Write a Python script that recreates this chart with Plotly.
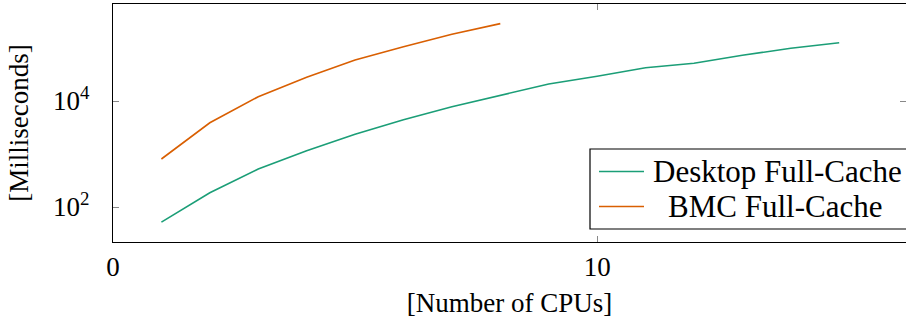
import plotly.graph_objects as go

# Timings (ms) against the number of CPUs used
cpus_desktop = [1, 2, 3, 4, 5, 6, 7, 8, 9, 10, 11, 12, 13, 14, 15]
ms_desktop = [52, 186, 521, 1154, 2355, 4440, 7820, 13000, 20900, 29400,
              42500, 51400, 72800, 98600, 126000]

cpus_bmc = [1, 2, 3, 4, 5, 6, 7, 8]
ms_bmc = [805, 3890, 12060, 28000, 59400, 106000, 181000, 288000]

series_names = ["Desktop Full-Cache", "BMC Full-Cache"]

x_ticks = [0, 10]
y_ticks = [100, 10000]
y_tick_text = ["10<sup>2</sup>", "10<sup>4</sup>"]

FONT = "Liberation Serif"
GREEN = "#1b9e77"
ORANGE = "#d95f02"
colors = [GREEN, ORANGE]

W, H = 906, 326
ML, MR, MT, MB = 113, 0, 4, 84
PW, PH = W - ML - MR, H - MT - MB


def px_x(p):
    return (p - ML) / PW


def px_y(p):
    return (H - MB - p) / PH


fig = go.Figure()
fig.add_trace(go.Scatter(x=cpus_desktop, y=ms_desktop, mode="lines",
                         name=series_names[0],
                         line=dict(color=GREEN, width=1.6)))
fig.add_trace(go.Scatter(x=cpus_bmc, y=ms_bmc, mode="lines",
                         name=series_names[1],
                         line=dict(color=ORANGE, width=1.6)))

# Legend box in the lower-right corner, drawn with shapes and text
shapes = [dict(type="rect", xref="paper", yref="paper",
               x0=px_x(590), x1=px_x(910), y0=px_y(229), y1=px_y(149),
               line=dict(color="black", width=1.2), fillcolor="white",
               layer="above")]
annotations = []
rows_y = [171.5, 206.5]
for name, col, ry, align in zip(series_names, colors, rows_y,
                                ["left", "center"]):
    shapes.append(dict(type="line", xref="paper", yref="paper",
                       x0=px_x(599), x1=px_x(644), y0=px_y(ry), y1=px_y(ry),
                       line=dict(color=col, width=1.6), layer="above"))
    if align == "left":
        annotations.append(dict(xref="paper", yref="paper", x=px_x(651),
                                y=px_y(ry), xanchor="left", yanchor="middle",
                                text=name, showarrow=False,
                                font=dict(family=FONT, size=31, color="black")))
    else:
        annotations.append(dict(xref="paper", yref="paper",
                                x=px_x((651 + 898) / 2), y=px_y(ry),
                                xanchor="center", yanchor="middle",
                                text=name, showarrow=False,
                                font=dict(family=FONT, size=31, color="black")))

fig.update_layout(
    width=W, height=H,
    margin=dict(l=ML, r=MR, t=MT, b=MB),
    paper_bgcolor="white", plot_bgcolor="white",
    font=dict(family=FONT, size=27, color="black"),
    showlegend=False,
    shapes=shapes,
    annotations=annotations,
)

fig.update_xaxes(
    range=[0, 16.38], tickvals=x_ticks, ticks="inside", ticklen=6,
    tickcolor="#888888", tickwidth=1,
    showline=True, linecolor="black", linewidth=1.3, mirror="ticks",
    showgrid=False, zeroline=False,
    title=dict(text="[Number of CPUs]", standoff=12,
               font=dict(family=FONT, size=27)),
    tickfont=dict(family=FONT, size=27),
)
fig.update_yaxes(
    type="log", range=[1.34, 5.83], tickvals=y_ticks, ticktext=y_tick_text,
    ticks="inside", ticklen=6, tickcolor="#888888", tickwidth=1,
    ticklabelstandoff=17,
    showline=True, linecolor="black", linewidth=1.3, mirror="ticks",
    showgrid=False, zeroline=False,
    title=dict(text="[Milliseconds]", standoff=16,
               font=dict(family=FONT, size=27)),
    tickfont=dict(family=FONT, size=27),
)

fig.write_html("out.html")
